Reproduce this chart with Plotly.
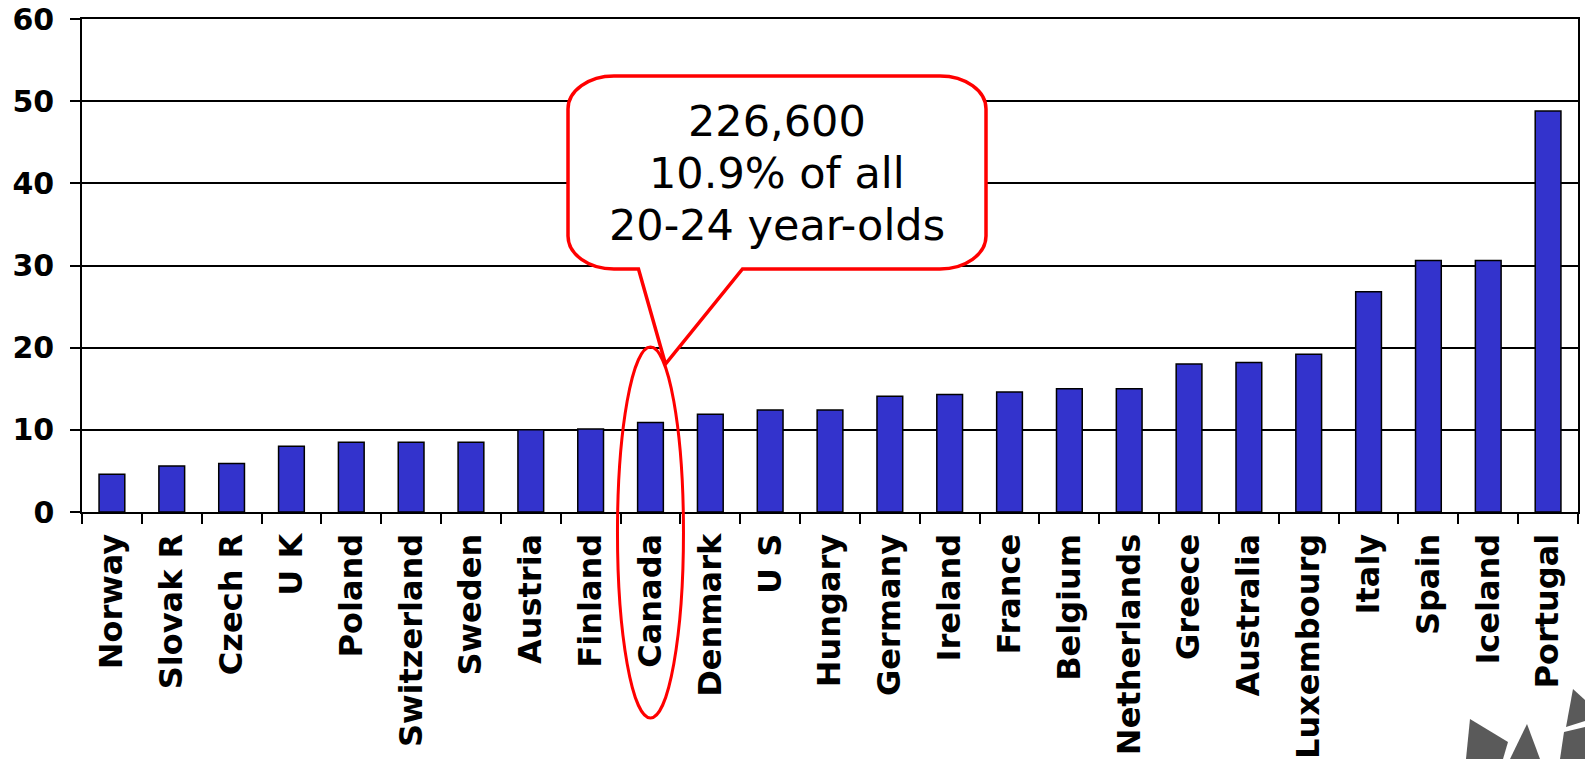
import plotly.graph_objects as go

# Share of 20-24 year-olds, per country (%)
countries = ["Norway", "Slovak R", "Czech R", "U K", "Poland", "Switzerland", "Sweden",
             "Austria", "Finland", "Canada", "Denmark", "U S", "Hungary", "Germany",
             "Ireland", "France", "Belgium", "Netherlands", "Greece", "Australia",
             "Luxembourg", "Italy", "Spain", "Iceland", "Portugal"]
values = [4.6, 5.6, 5.9, 8.0, 8.5, 8.5, 8.5, 10.0, 10.1, 10.9, 11.9, 12.4, 12.4, 14.1,
          14.3, 14.6, 15.0, 15.0, 18.0, 18.2, 19.2, 26.8, 30.6, 30.6, 48.8]
y_ticks = [0, 10, 20, 30, 40, 50, 60]

highlight = "Canada"
callout_lines = ["226,600", "10.9% of all", "20-24 year-olds"]

# canvas / plot-area geometry (pixels)
W, H = 1585, 759
ML, MR, MT, MB = 82, 7, 19, 247
PW, PH = W - ML - MR, H - MT - MB


def px(x):
    return (x - ML) / PW


def py(y):
    return (H - MB - y) / PH


def P(x, y):
    return f"{px(x):.5f},{py(y):.5f}"


def path_from(points):
    return "M" + " L".join(P(x, y) for x, y in points) + " Z"


fig = go.Figure(go.Bar(
    x=countries, y=values,
    marker=dict(color="#3333CC", line=dict(color="black", width=1.5)),
    hoverinfo="x+y",
))

# speech-bubble callout: rounded box with a tail pointing at the highlighted bar
hi_idx = countries.index(highlight)
cat_center = (hi_idx + 0.5) / len(countries)
cx_px = ML + cat_center * PW
bx0, bx1, by0, by1 = 568, 986, 76, 269
rx, ry = 46, 33
k = 0.5523
tip = (cx_px + 15, 364)
tb0, tb1 = cx_px - 12, cx_px + 92

bubble = (
    f"M{P(bx0 + rx, by0)} L{P(bx1 - rx, by0)} "
    f"C{P(bx1 - rx + k * rx, by0)} {P(bx1, by0 + ry - k * ry)} {P(bx1, by0 + ry)} "
    f"L{P(bx1, by1 - ry)} "
    f"C{P(bx1, by1 - ry + k * ry)} {P(bx1 - rx + k * rx, by1)} {P(bx1 - rx, by1)} "
    f"L{P(tb1, by1)} L{P(*tip)} L{P(tb0, by1)} L{P(bx0 + rx, by1)} "
    f"C{P(bx0 + rx - k * rx, by1)} {P(bx0, by1 - ry + k * ry)} {P(bx0, by1 - ry)} "
    f"L{P(bx0, by0 + ry)} "
    f"C{P(bx0, by0 + ry - k * ry)} {P(bx0 + rx - k * rx, by0)} {P(bx0 + rx, by0)} Z"
)

shapes = [
    dict(type="path", xref="paper", yref="paper", path=bubble,
         fillcolor="white", line=dict(color="#FF0000", width=3.5), layer="above"),
    # ellipse around the highlighted bar and its label
    dict(type="circle", xref="paper", yref="paper",
         x0=px(cx_px - 33), x1=px(cx_px + 33), y0=py(718), y1=py(347),
         line=dict(color="#FF0000", width=3), fillcolor="rgba(0,0,0,0)", layer="above"),
]

# grey corner emblem
emblem = [
    [(1470, 719), (1508, 742), (1503, 759), (1466, 759)],
    [(1527, 724), (1540, 759), (1510, 759)],
    [(1573, 689), (1585, 700), (1585, 721), (1566, 727)],
    [(1564, 732), (1585, 727), (1585, 759), (1560, 759)],
]
for poly in emblem:
    shapes.append(dict(type="path", xref="paper", yref="paper", path=path_from(poly),
                       fillcolor="#5A5A5A", line=dict(width=0), layer="above"))

# callout text, one annotation per line for tighter leading
line_gap = 52
mid_y = (by0 + by1) / 2
annotations = []
for i, line in enumerate(callout_lines):
    annotations.append(dict(
        xref="paper", yref="paper", x=px((bx0 + bx1) / 2),
        y=py(mid_y + (i - 1) * line_gap),
        xanchor="center", yanchor="middle", showarrow=False, text=line,
        font=dict(family="DejaVu Sans", size=43, color="black"),
    ))

fig.update_layout(
    width=W, height=H,
    margin=dict(l=ML, r=MR, t=MT, b=MB, pad=0),
    paper_bgcolor="white", plot_bgcolor="white",
    bargap=0.57,
    showlegend=False,
    shapes=shapes,
    annotations=annotations,
    xaxis=dict(
        type="category", tickangle=-90, automargin=False, ticklabelstandoff=7,
        tickfont=dict(family="DejaVu Sans", size=32, color="black", weight="bold"),
        showline=True, linecolor="black", linewidth=2, mirror=True,
        ticks="outside", tickson="boundaries", ticklen=10, tickwidth=1.5, tickcolor="black",
        showgrid=False,
    ),
    yaxis=dict(
        range=[0, 60], tickvals=y_ticks, automargin=False, ticklabelstandoff=10,
        tickfont=dict(family="DejaVu Sans", size=30, color="black", weight="bold"),
        showline=True, linecolor="black", linewidth=1.5, mirror=True,
        ticks="outside", ticklen=10, tickwidth=1.5, tickcolor="black",
        showgrid=True, gridcolor="black", gridwidth=1.5, zeroline=False,
    ),
)

fig.write_html("out.html")
